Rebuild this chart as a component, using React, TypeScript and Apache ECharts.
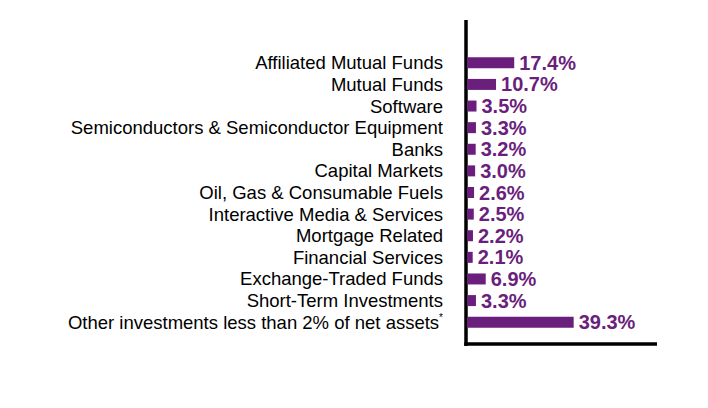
import React, { useEffect, useRef } from "react";
import * as echarts from "echarts";

const categories = [
  "Affiliated Mutual Funds",
  "Mutual Funds",
  "Software",
  "Semiconductors & Semiconductor Equipment",
  "Banks",
  "Capital Markets",
  "Oil, Gas & Consumable Fuels",
  "Interactive Media & Services",
  "Mortgage Related",
  "Financial Services",
  "Exchange-Traded Funds",
  "Short-Term Investments",
  "Other investments less than 2% of net assets*",
];
const values = [17.4, 10.7, 3.5, 3.3, 3.2, 3.0, 2.6, 2.5, 2.2, 2.1, 6.9, 3.3, 39.3];

const PURPLE = "#6b1f7d";
const FONT = "Liberation Sans, Arial, sans-serif";

export default function App() {
  const ref = useRef<HTMLDivElement>(null);
  useEffect(() => {
    if (!ref.current) return;
    const chart = echarts.init(ref.current, null, { renderer: "svg" });
    chart.setOption({
      animation: false,
      backgroundColor: "#ffffff",
      grid: { left: 467, top: 52, width: 190, height: 281, containLabel: false },
      xAxis: {
        type: "value",
        min: 0,
        max: 70,
        show: false,
      },
      yAxis: {
        type: "category",
        data: categories,
        inverse: true,
        axisLine: { show: false },
        axisTick: { show: false },
        splitLine: { show: false },
        axisLabel: {
          interval: 0,
          hideOverlap: false,
          margin: 24,
          color: "#000000",
          fontFamily: FONT,
          fontSize: 18.5,
          formatter: (v: string) =>
            v.endsWith("*") ? `{a|${v.slice(0, -1)}}{s|*}` : `{a|${v}}`,
          rich: {
            a: { fontSize: 18.5, color: "#000000", fontFamily: FONT },
            s: {
              fontSize: 10,
              color: "#000000",
              fontFamily: FONT,
              padding: [0, 0, 9, 0],
            },
          },
        },
      },
      series: [
        {
          type: "bar",
          data: values,
          barWidth: 11,
          itemStyle: { color: PURPLE },
          label: {
            show: true,
            position: "right",
            distance: 5,
            color: PURPLE,
            fontWeight: "bold",
            fontSize: 20,
            fontFamily: FONT,
            formatter: (p: any) => `${Number(p.value).toFixed(1)}%`,
          },
        },
      ],
      graphic: [
        {
          type: "line",
          shape: { x1: 466, y1: 20, x2: 466, y2: 346 },
          style: { stroke: "#000000", lineWidth: 3.5 },
        },
        {
          type: "line",
          shape: { x1: 464.3, y1: 344, x2: 657, y2: 344 },
          style: { stroke: "#000000", lineWidth: 3.5 },
        },
      ],
    });
    return () => chart.dispose();
  }, []);
  return <div ref={ref} style={{ width: 708, height: 408, position: "absolute", left: 0, top: 0 }} />;
}
